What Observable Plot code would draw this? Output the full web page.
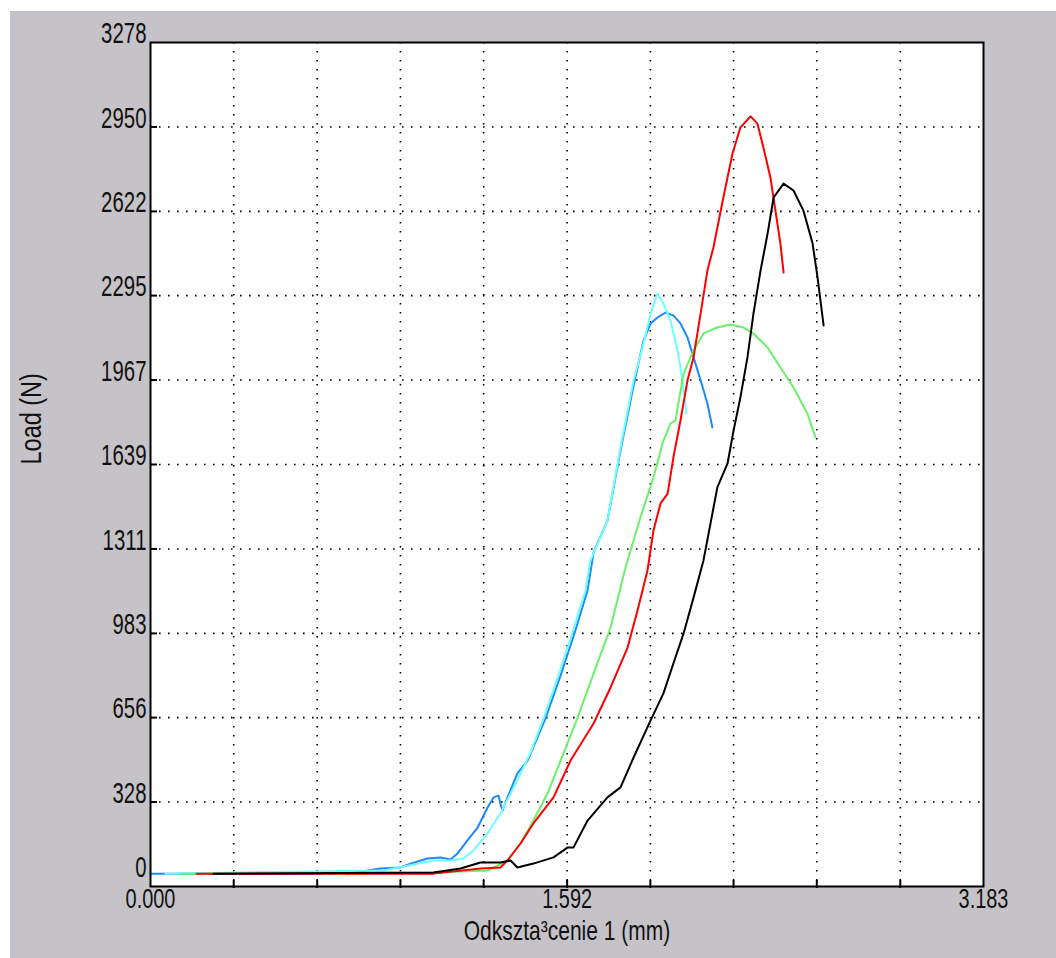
<!DOCTYPE html>
<html><head><meta charset="utf-8">
<script src="https://cdn.jsdelivr.net/npm/d3@7"></script>
<script src="https://cdn.jsdelivr.net/npm/@observablehq/plot@0.6"></script>
<style>
html,body{margin:0;padding:0;background:#fff;}
#chart{position:absolute;left:10px;top:11px;width:1046px;height:947px;background:#c5c3c7;overflow:hidden;}
</style></head><body><div id="chart"></div>
<script>
// Deformation (mm) / Load (N) pairs for each specimen
const blue = [[0,50],[0.650,50],[0.669,58],[0.688,50],[0.726,58],[0.753,50],[0.879,70],[0.955,74],[0.994,89],[1.058,109],[1.108,113],[1.146,105],[1.173,128],[1.211,179],[1.250,229],[1.288,307],[1.311,346],[1.330,353],[1.337,322],[1.345,295],[1.364,346],[1.402,439],[1.441,489],[1.509,652],[1.567,820],[1.620,983],[1.670,1150],[1.693,1297],[1.746,1421],[1.796,1693],[1.846,1946],[1.884,2121],[1.911,2187],[1.937,2210],[1.968,2229],[1.998,2218],[2.025,2187],[2.052,2132],[2.075,2055],[2.102,1966],[2.128,1876],[2.147,1783]];
const cyan = [[0.057,50],[0.891,62],[1.081,101],[1.146,101],[1.196,109],[1.234,140],[1.288,206],[1.337,284],[1.376,361],[1.414,439],[1.452,520],[1.502,652],[1.559,820],[1.612,983],[1.662,1150],[1.681,1266],[1.746,1421],[1.796,1705],[1.846,1966],[1.884,2109],[1.911,2225],[1.937,2303],[1.960,2264],[1.987,2198],[2.014,2082],[2.033,1966],[2.048,1837]];
const green = [[0.115,50],[1.081,54],[1.288,62],[1.364,101],[1.414,167],[1.463,256],[1.517,361],[1.567,489],[1.632,656],[1.693,827],[1.758,1006],[1.815,1239],[1.872,1433],[1.922,1589],[1.960,1732],[1.987,1798],[2.006,1810],[2.017,1876],[2.037,1992],[2.075,2082],[2.113,2148],[2.166,2171],[2.216,2183],[2.266,2171],[2.304,2148],[2.358,2093],[2.407,2016],[2.457,1938],[2.510,1837],[2.541,1744]];
const red = [[0.176,50],[1.081,50],[1.261,70],[1.337,74],[1.364,101],[1.414,167],[1.463,245],[1.540,346],[1.605,489],[1.693,633],[1.758,773],[1.823,928],[1.861,1072],[1.899,1227],[1.922,1383],[1.949,1488],[1.976,1526],[1.998,1666],[2.025,1810],[2.052,1966],[2.075,2055],[2.102,2225],[2.128,2392],[2.151,2482],[2.189,2676],[2.224,2847],[2.254,2948],[2.293,2991],[2.319,2963],[2.342,2870],[2.369,2753],[2.388,2625],[2.407,2497],[2.419,2385]];
const black = [[0.241,50],[1.081,54],[1.185,70],[1.261,93],[1.337,93],[1.376,101],[1.402,74],[1.463,89],[1.540,113],[1.593,151],[1.616,151],[1.670,256],[1.746,346],[1.796,385],[1.846,501],[1.911,645],[1.960,750],[1.998,866],[2.037,983],[2.075,1122],[2.113,1266],[2.166,1550],[2.205,1643],[2.228,1771],[2.254,1899],[2.281,2055],[2.304,2225],[2.331,2392],[2.358,2536],[2.381,2676],[2.419,2730],[2.457,2703],[2.495,2625],[2.530,2497],[2.549,2365],[2.572,2179]];

const seriesNames = ["blue","cyan","green","red","black"];
const seriesColors = ["#1e88ff","#6cffff","#6cf06c","#ff0000","#000000"];

const xTickValues = [0,0.318,0.637,0.955,1.273,1.592,1.910,2.228,2.546,2.865,3.183];
const xLabelValues = [0,1.592,3.183];
const xLabelTexts = ["0.000","1.592","3.183"];
const yTickValues = [0,328,656,983,1311,1639,1967,2295,2622,2950,3278];
const yTickTexts = ["0","328","656","983","1311","1639","1967","2295","2622","2950","3278"];
const xTitle = "Odkszta³cenie 1 (mm)";
const yTitle = "Load (N)";

const seriesData = [blue, cyan, green, red, black];
const lines = seriesData.map((s, i) => Plot.line(s, {x: d => d[0], y: d => d[1], stroke: seriesColors[i], strokeWidth: 2}));

const dots = {stroke: "#000", strokeWidth: 1.6, strokeDasharray: "1.6,7.4"};
const yLab = yTickValues.map((v, i) => ({v, t: yTickTexts[i]}));
const xLab = xLabelValues.map((v, i) => ({v, t: xLabelTexts[i]}));

const svg = Plot.plot({
  width: 1046, height: 947,
  marginLeft: 140, marginTop: 31, marginRight: 73, marginBottom: 72,
  style: {background: "transparent", fontFamily: "'Liberation Sans', Arial, sans-serif", color: "#000", overflow: "visible"},
  x: {domain: [0, 3.183], axis: null},
  y: {domain: [0, 3278], axis: null},
  marks: [
    Plot.frame({fill: "#fff", stroke: null}),
    Plot.ruleX(xTickValues.slice(1, -1), dots),
    Plot.ruleY(yTickValues.slice(1, -1), dots),
    ...lines,
    Plot.frame({stroke: "#000", strokeWidth: 2}),
    Plot.axisX({ticks: xTickValues.slice(1, -1), tickSize: 8, dy: -6, tickFormat: () => "", label: null, strokeWidth: 2}),
    Plot.axisY({ticks: yTickValues.slice(1, -1), tickSize: 7, dx: 7, tickFormat: () => "", label: null, strokeWidth: 2}),
    Plot.text(yLab.filter(d => d.v > 0), {y: "v", text: "t", frameAnchor: "left", textAnchor: "end", dx: -4, dy: -9, fontSize: 30, fill: "#111"}),
    Plot.text(yLab.filter(d => d.v === 0), {y: "v", text: "t", frameAnchor: "left", textAnchor: "end", dx: -4, dy: -19, fontSize: 30, fill: "#111"}),
    Plot.text(xLab, {x: "v", text: "t", frameAnchor: "bottom", dy: 21, fontSize: 28, fill: "#111"}),
    Plot.text([xTitle], {text: d => d, frameAnchor: "bottom", dy: 53, fontSize: 28, fill: "#111"}),
    Plot.text([yTitle], {text: d => d, frameAnchor: "left", dx: -119, rotate: -90, fontSize: 29, fill: "#111"})
  ]
});
document.getElementById("chart").appendChild(svg);

// condensed glyphs like the original bitmap font
const factors = new Map();
yTickTexts.forEach(t => factors.set(t, 0.68));
xLabelTexts.forEach(t => factors.set(t, 0.71));
factors.set(xTitle, 0.75);
factors.set(yTitle, 0.81);
d3.select(svg).selectAll("text").each(function() {
  const t = this.textContent;
  if (!t || !factors.has(t)) return;
  const len = this.getComputedTextLength();
  this.setAttribute("textLength", (len * factors.get(t)).toFixed(1));
  this.setAttribute("lengthAdjust", "spacingAndGlyphs");
});
</script></body></html>
